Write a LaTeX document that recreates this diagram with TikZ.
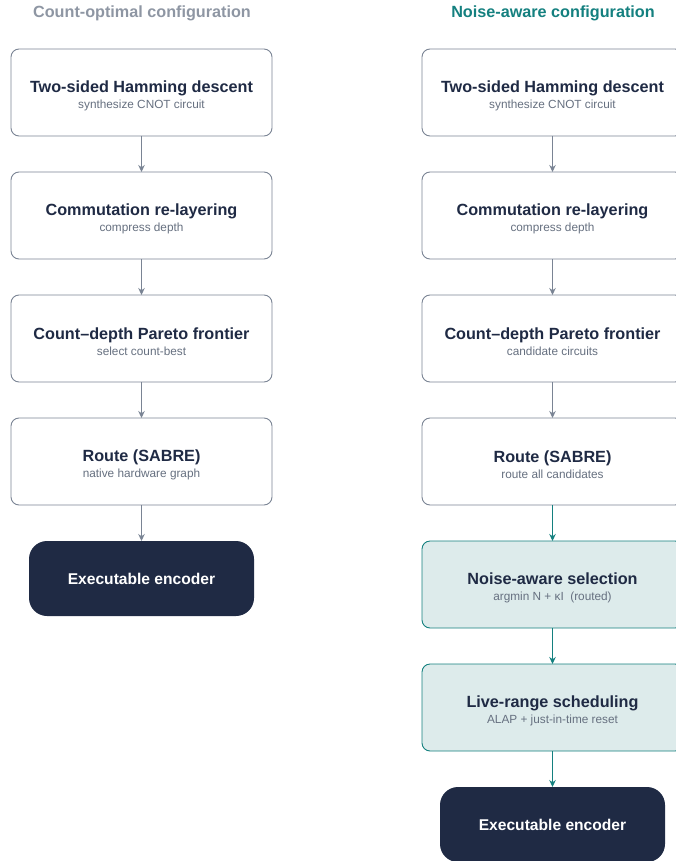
\documentclass[tikz,border=0pt]{standalone}
\usepackage{fontspec}
\setmainfont{Liberation Sans}
\usepackage{xcolor}
\usetikzlibrary{positioning, arrows.meta}

\definecolor{ink}{HTML}{1F2A44}
\definecolor{subgray}{HTML}{667080}
\definecolor{edge}{HTML}{7A8494}
\definecolor{headgray}{HTML}{8E96A3}
\definecolor{teal}{HTML}{14807F}
\definecolor{tealfill}{HTML}{DDEBEB}

\newcommand{\stagetext}[2]{{\fontsize{16.2}{18}\selectfont\bfseries\color{ink}\rule{0pt}{18pt}#1}\\[3.5pt]{\fontsize{11.8}{13}\selectfont\color{subgray}#2}}

\begin{document}
\begin{tikzpicture}[
    x=1pt, y=-1pt,
    stage/.style={rectangle, draw=edge, fill=white, line width=0.9pt, rounded corners=8pt,
      minimum width=261pt, minimum height=87pt, align=center, inner sep=0pt, outer sep=0pt},
    noisy/.style={stage, draw=teal, fill=tealfill},
    final/.style={rectangle, fill=ink, rounded corners=18pt, minimum width=225pt,
      minimum height=75pt, outer sep=0pt, text=white, font=\fontsize{15.6}{17}\selectfont\bfseries},
    head/.style={font=\fontsize{16.2}{18}\selectfont\bfseries},
    flow/.style={draw=edge, line width=1pt, -{Stealth[length=7pt, width=6.5pt]}},
    tealflow/.style={flow, draw=teal, fill=teal},
    node distance=36pt
  ]
  \useasboundingbox (0,0) rectangle (676,861);

  % count-optimal column
  \node[head, text=headgray] (lhead) at (142,13) {Count-optimal configuration};
  \node[stage] (l0) at (141.5,92.5) {\stagetext{Two-sided Hamming descent}{synthesize CNOT circuit}};
  \node[stage] (l1) [below=of l0] {\stagetext{Commutation re-layering}{compress depth}};
  \node[stage] (l2) [below=of l1] {\stagetext{Count--depth Pareto frontier}{select count-best}};
  \node[stage] (l3) [below=of l2] {\stagetext{Route (SABRE)}{native hardware graph}};
  \node[final] (lend) [below=of l3] {Executable encoder};

  \draw[flow] (l0) -- (l1);
  \draw[flow] (l1) -- (l2);
  \draw[flow] (l2) -- (l3);
  \draw[flow] (l3) -- (lend);

  % noise-aware column
  \node[head, text=teal] (rhead) at (553,13) {Noise-aware configuration};
  \node[stage] (r0) at (552.5,92.5) {\stagetext{Two-sided Hamming descent}{synthesize CNOT circuit}};
  \node[stage] (r1) [below=of r0] {\stagetext{Commutation re-layering}{compress depth}};
  \node[stage] (r2) [below=of r1] {\stagetext{Count--depth Pareto frontier}{candidate circuits}};
  \node[stage] (r3) [below=of r2] {\stagetext{Route (SABRE)}{route all candidates}};
  \node[noisy] (r4) [below=of r3] {\stagetext{Noise-aware selection}{argmin N + κI\ \ (routed)}};
  \node[noisy] (r5) [below=of r4] {\stagetext{Live-range scheduling}{ALAP + just-in-time reset}};
  \node[final] (rend) [below=of r5] {Executable encoder};

  \draw[flow] (r0) -- (r1);
  \draw[flow] (r1) -- (r2);
  \draw[flow] (r2) -- (r3);
  \draw[tealflow] (r3) -- (r4);
  \draw[tealflow] (r4) -- (r5);
  \draw[tealflow] (r5) -- (rend);

\end{tikzpicture}
\end{document}
